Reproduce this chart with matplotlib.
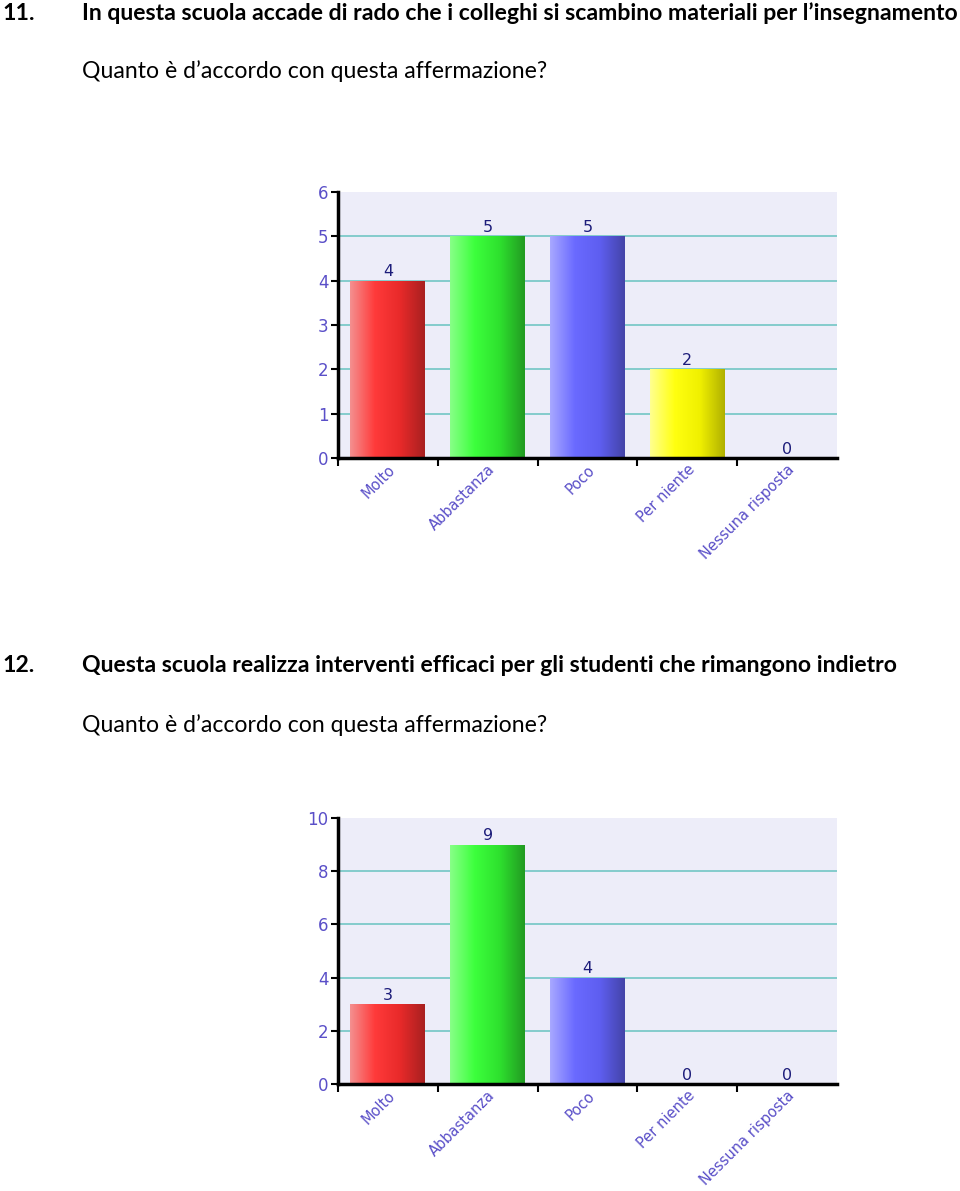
import numpy as np
import matplotlib
matplotlib.use("Agg")
import matplotlib.pyplot as plt
from matplotlib.colors import LinearSegmentedColormap

categories = ["Molto", "Abbastanza", "Poco", "Per niente", "Nessuna risposta"]
values_q11 = [4, 5, 5, 2, 0]
values_q12 = [3, 9, 4, 0, 0]

title_q11 = "In questa scuola accade di rado che i colleghi si scambino materiali per l\u2019insegnamento"
title_q12 = "Questa scuola realizza interventi efficaci per gli studenti che rimangono indietro"
question = "Quanto \u00e8 d\u2019accordo con questa affermazione?"

bar_gradients = [
    ["#f49090", "#ff3a3a", "#e82a2a", "#a82020"],
    ["#88ff88", "#3cff3c", "#2ee02e", "#229a22"],
    ["#a8a8ff", "#6a6aff", "#5e5ef0", "#4444a8"],
    ["#ffff90", "#ffff10", "#f0f000", "#b0b000"],
    ["#f0f0f0", "#c0c0c0", "#b0b0b0", "#808080"],
]

BG = "#ededf9"
GRID = "#7cc9c9"
TICK = "#5a4fc8"
LABEL = "#1c1c7a"

plt.rcParams["font.family"] = ["DejaVu Sans"]

fig = plt.figure(figsize=(9.6, 11.91), dpi=100)


def draw_chart(rect, values, ymax, ystep):
    ax = fig.add_axes(rect)
    ax.set_facecolor(BG)
    x = np.arange(len(categories))
    bars = ax.bar(x, values, width=0.75, color="none", zorder=3)
    grad = np.linspace(0, 1, 256).reshape(1, -1)
    for bar, cols in zip(bars, bar_gradients):
        h = bar.get_height()
        if h <= 0:
            continue
        cmap = LinearSegmentedColormap.from_list("g", cols)
        im = ax.imshow(grad, cmap=cmap, aspect="auto", zorder=3,
                       extent=(bar.get_x(), bar.get_x() + bar.get_width(), 0, h))
        im.set_clip_path(bar)
    for xi, v in zip(x, values):
        ax.text(xi, v + ymax * 0.005, str(v), ha="center", va="bottom",
                fontsize=11.5, color=LABEL, zorder=4)
    ax.set_xlim(-0.5, len(categories) - 0.5)
    ax.set_ylim(0, ymax)
    yt = np.arange(0, ymax + 1, ystep)
    ax.set_yticks(yt)
    # gridlines between 0 and the top, none on the axis or the top edge
    for y in yt[1:-1]:
        ax.axhline(y, color=GRID, linewidth=1.3, zorder=1)
    ax.set_xticks(x)
    ax.set_xticklabels(categories, rotation=45, ha="right", va="top",
                       rotation_mode="anchor", fontsize=10.5, color=TICK)
    ax.set_xticks(np.arange(len(categories)) - 0.5, minor=True)
    ax.tick_params(axis="x", which="major", length=0, pad=3)
    ax.tick_params(axis="x", which="minor", length=6, width=1.5, color="black")
    ax.tick_params(axis="y", length=5, width=1.5, labelsize=12, labelcolor=TICK, pad=2)
    for s in ["top", "right"]:
        ax.spines[s].set_visible(False)
    for s in ["left", "bottom"]:
        ax.spines[s].set_linewidth(2.5)
        ax.spines[s].set_zorder(5)
    return ax


W, H = 960, 1191


def rect_from_px(left, top, right, bottom):
    return [left / W, 1 - bottom / H, (right - left) / W, (bottom - top) / H]


draw_chart(rect_from_px(338, 192, 837, 458), values_q11, 6, 1)
draw_chart(rect_from_px(338, 818, 837, 1084), values_q12, 10, 2)

tfont = dict(family=["Lato", "DejaVu Sans"], fontsize=16.6, color="black")
fig.text(2 / W, 1 - 13 / H, "11.", fontweight="bold", va="center", **tfont)
fig.text(82 / W, 1 - 13 / H, title_q11, fontweight="bold", va="center", **tfont)
fig.text(82 / W, 1 - 71 / H, question, va="center", **tfont)
fig.text(2 / W, 1 - 666 / H, "12.", fontweight="bold", va="center", **tfont)
fig.text(82 / W, 1 - 666 / H, title_q12, fontweight="bold", va="center", **tfont)
fig.text(82 / W, 1 - 725 / H, question, va="center", **tfont)

fig.savefig("out.png", dpi=100, facecolor="white")
